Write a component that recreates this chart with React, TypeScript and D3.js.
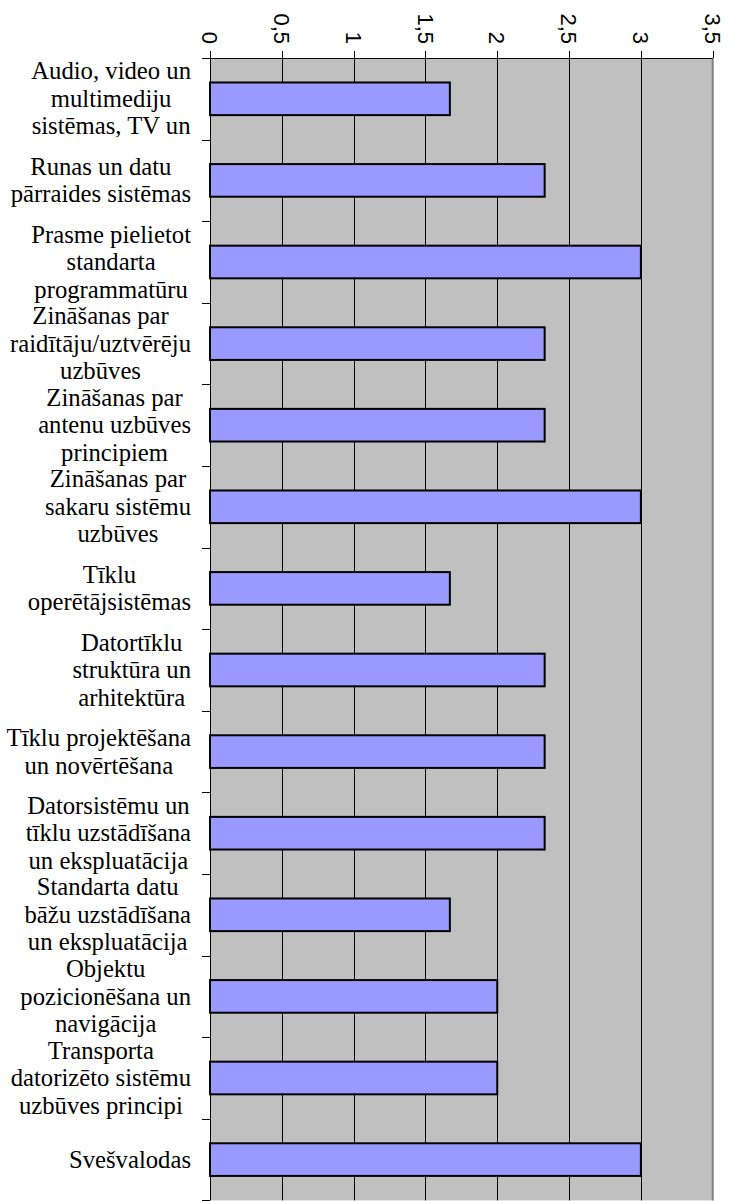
import React from "react";
import * as d3 from "d3";

// Category labels, already wrapped the way the reference wraps them
const categoryLines: string[][] = [
  ["Audio, video un", "multimediju", "sistēmas, TV un"],
  ["Runas un datu", "pārraides sistēmas"],
  ["Prasme pielietot", "standarta", "programmatūru"],
  ["Zināšanas par", "raidītāju/uztvērēju", "uzbūves"],
  ["Zināšanas par", "antenu uzbūves", "principiem"],
  ["Zināšanas par", "sakaru sistēmu", "uzbūves"],
  ["Tīklu", "operētājsistēmas"],
  ["Datortīklu", "struktūra un", "arhitektūra"],
  ["Tīklu projektēšana", "un novērtēšana"],
  ["Datorsistēmu un", "tīklu uzstādīšana", "un ekspluatācija"],
  ["Standarta datu", "bāžu uzstādīšana", "un ekspluatācija"],
  ["Objektu", "pozicionēšana un", "navigācija"],
  ["Transporta", "datorizēto sistēmu", "uzbūves principi"],
  ["Svešvalodas"],
];

const values: number[] = [1.67, 2.33, 3, 2.33, 2.33, 3, 1.67, 2.33, 2.33, 2.33, 1.67, 2, 2, 3];

const tickValues: number[] = [0, 0.5, 1, 1.5, 2, 2.5, 3, 3.5];
const tickLabels: string[] = ["0", "0,5", "1", "1,5", "2", "2,5", "3", "3,5"];

const SERIF = "Liberation Serif";
const SANS = "Liberation Sans";
const LABEL_SIZE = 24.7;

// text widths, to centre the wrapped lines of a label on each other
const ctx = document.createElement("canvas").getContext("2d")!;
ctx.font = `${LABEL_SIZE}px "${SERIF}"`;
const textWidth = (s: string) => ctx.measureText(s).width;

const BarChart = ({ width = 734, height = 1201 }) => {
  const left = 210;
  const right = 712.7;
  const top = 58;
  const step = 81.6;
  const bottom = top + step * categoryLines.length;

  const x = d3.scaleLinear().domain([0, 3.5]).range([left, right]);
  const y = d3
    .scaleBand<number>()
    .domain(d3.range(categoryLines.length))
    .range([top, bottom])
    .padding(0);
  const bw = y.bandwidth();
  const px = (v: number) => Math.round(x(v)) + 0.5;

  const lineH = 27.5;
  const labelRight = 191;

  return (
    <svg
      width={width}
      height={height}
      style={{ position: "absolute", left: 0, top: 0, background: "#fff" }}
    >
      {/* plot background */}
      <rect x={left} y={top} width={right - left} height={bottom - top} fill="#c0c0c0" />

      {/* gridlines */}
      {tickValues
        .filter((t) => t > 0 && t < 3.5)
        .map((t) => (
          <line key={t} x1={px(t)} x2={px(t)} y1={top} y2={bottom} stroke="#000" strokeWidth={1} />
        ))}
      <line x1={right} x2={right} y1={top} y2={bottom} stroke="#808080" strokeWidth={2} />

      {/* bars */}
      {values.map((v, i) => (
        <rect
          key={i}
          x={x(0)}
          y={(y(i) as number) + bw * 0.3}
          width={x(v) - x(0)}
          height={bw * 0.4}
          fill="#9999ff"
          stroke="#000"
          strokeWidth={2}
        />
      ))}

      {/* top axis */}
      <g stroke="#000" strokeWidth={1}>
        <line x1={left - 8} x2={right} y1={top + 0.5} y2={top + 0.5} />
        {tickValues.map((t) => (
          <line key={t} x1={px(t)} x2={px(t)} y1={top - 7} y2={top} />
        ))}
        {/* left axis */}
        <line x1={left + 0.5} x2={left + 0.5} y1={top - 7} y2={bottom} />
        {d3.range(categoryLines.length + 1).map((k) => {
          const yy = Math.round(k < categoryLines.length ? (y(k) as number) : bottom) + 0.5;
          return <line key={k} x1={left - 8} x2={left} y1={yy} y2={yy} />;
        })}
      </g>
      {tickValues.map((t, i) => (
        <text
          key={t}
          transform={`translate(${x(t)},44) rotate(90)`}
          textAnchor="end"
          dy="0.36em"
          fill="#000"
          style={{ fontFamily: SANS, fontSize: "22px" }}
        >
          {tickLabels[i]}
        </text>
      ))}

      {/* category labels */}
      {categoryLines.map((lines, i) => {
        const cy = (y(i) as number) + bw / 2;
        const cx = labelRight - d3.max(lines, textWidth)! / 2;
        return (
          <text
            key={i}
            textAnchor="middle"
            fill="#000"
            style={{ fontFamily: SERIF, fontSize: `${LABEL_SIZE}px` }}
          >
            {lines.map((s, j) => (
              <tspan key={j} x={cx} y={cy + (j - (lines.length - 1) / 2) * lineH} dy="0.33em">
                {s}
              </tspan>
            ))}
          </text>
        );
      })}
    </svg>
  );
};

export default function App() {
  return <BarChart />;
}
